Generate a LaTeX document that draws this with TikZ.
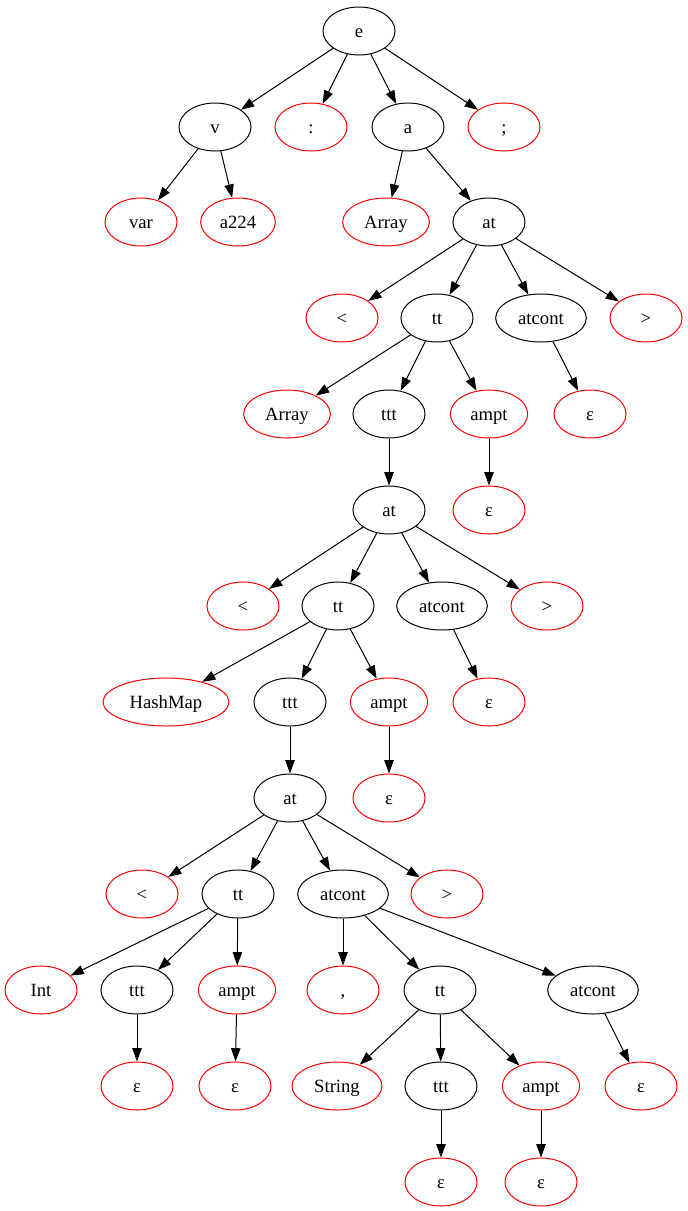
\documentclass[tikz,border=0pt]{standalone}
\usepackage{fontspec}
\setmainfont{Liberation Serif}
\usetikzlibrary{shapes.geometric,arrows.meta}
\begin{document}
\begin{tikzpicture}[x=0.75pt,y=-0.75pt,
  nt/.style={ellipse,draw=black,line width=0.75pt,minimum width=54pt,minimum height=36pt,inner sep=0pt,
    text height=12pt,text depth=2pt,font=\fontsize{14pt}{16pt}\selectfont},
  leaf/.style={nt,draw=red},
  wide/.style={minimum width=68pt},
  mid/.style={minimum width=58pt},
  edge/.style={draw=black,line width=0.75pt,-{Triangle[length=10pt,width=7pt]}}]
\useasboundingbox (0,0) rectangle (687,1211);
% row 1
\node[nt] (e) at (359,31) {e};
% row 2
\node[nt] (v) at (215,127) {v};
\node[leaf] (colon) at (311,127) {:};
\node[nt] (a) at (408,127) {a};
\node[leaf] (semi) at (504,127) {;};
% row 3
\node[leaf] (var) at (141,222) {var};
\node[leaf,minimum width=56pt] (a224) at (238,222) {a224};
\node[leaf,minimum width=65pt] (arr1) at (386,222) {Array};
\node[nt] (at1) at (489,222) {at};
% row 4
\node[leaf] (lt1) at (342,318) {<};
\node[nt] (tt1) at (437,318) {tt};
\node[nt,wide] (atc1) at (541,318) {atcont};
\node[leaf] (gt1) at (646,318) {>};
% row 5
\node[leaf,minimum width=65pt] (arr2) at (287,414) {Array};
\node[nt] (ttt1) at (389,414) {ttt};
\node[leaf,mid] (ampt1) at (489,414) {ampt};
\node[leaf] (eps1) at (590,414) {ε};
% row 6
\node[nt] (at2) at (389,510) {at};
\node[leaf] (eps2) at (489,510) {ε};
% row 7
\node[leaf] (lt2) at (243,606) {<};
\node[nt] (tt2) at (338,606) {tt};
\node[nt,wide] (atc2) at (442,606) {atcont};
\node[leaf] (gt2) at (547,606) {>};
% row 8
\node[leaf,minimum width=94.5pt] (hm) at (166,702) {HashMap};
\node[nt] (ttt2) at (290,702) {ttt};
\node[leaf,mid] (ampt2) at (389,702) {ampt};
\node[leaf] (eps3) at (489,702) {ε};
% row 9
\node[nt] (at3) at (290,798) {at};
\node[leaf] (eps4) at (389,798) {ε};
% row 10
\node[leaf] (lt3) at (142,894) {<};
\node[nt] (tt3) at (238,894) {tt};
\node[nt,wide] (atc3) at (343,894) {atcont};
\node[leaf] (gt3) at (447,894) {>};
% row 11
\node[leaf] (int) at (41,990) {Int};
\node[nt] (ttt3) at (137,990) {ttt};
\node[leaf,mid] (ampt3) at (237,990) {ampt};
\node[leaf] (comma) at (343,990) {,};
\node[nt] (tt4) at (440,990) {tt};
\node[nt,wide] (atc4) at (593,990) {atcont};
% row 12
\node[leaf] (eps5) at (137,1086) {ε};
\node[leaf] (eps6) at (235,1086) {ε};
\node[leaf,minimum width=67.5pt] (str) at (337,1086) {String};
\node[nt] (ttt4) at (441,1086) {ttt};
\node[leaf,mid] (ampt4) at (541,1086) {ampt};
\node[leaf] (eps7) at (641,1086) {ε};
% row 13
\node[leaf] (eps8) at (441,1182) {ε};
\node[leaf] (eps9) at (541,1182) {ε};
% connectors
\foreach \p/\c in {e/v,e/colon,e/a,e/semi,
  v/var,v/a224,a/arr1,a/at1,
  at1/lt1,at1/tt1,at1/atc1,at1/gt1,
  tt1/arr2,tt1/ttt1,tt1/ampt1,atc1/eps1,
  ttt1/at2,ampt1/eps2,
  at2/lt2,at2/tt2,at2/atc2,at2/gt2,
  tt2/hm,tt2/ttt2,tt2/ampt2,atc2/eps3,
  ttt2/at3,ampt2/eps4,
  at3/lt3,at3/tt3,at3/atc3,at3/gt3,
  tt3/int,tt3/ttt3,tt3/ampt3,
  atc3/comma,atc3/tt4,atc3/atc4,
  ttt3/eps5,ampt3/eps6,
  tt4/str,tt4/ttt4,tt4/ampt4,atc4/eps7,
  ttt4/eps8,ampt4/eps9}
  \draw[edge] (\p) -- (\c);
\end{tikzpicture}
\end{document}
